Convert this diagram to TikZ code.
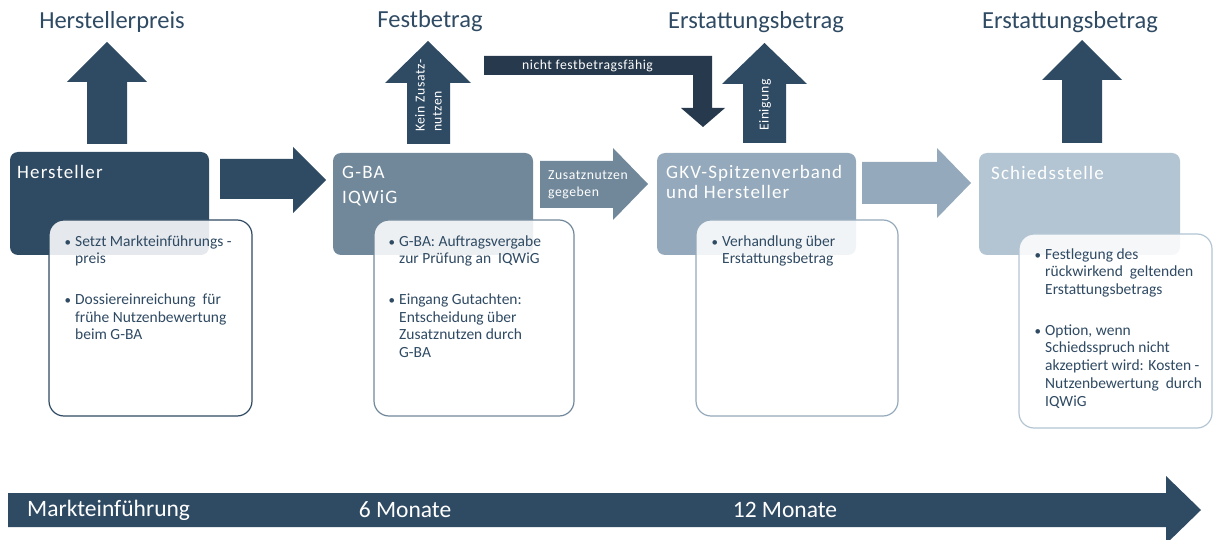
\documentclass[tikz,border=0pt]{standalone}
\usepackage{fontspec}
\setmainfont{Carlito}
\usepackage{tikz}
\definecolor{fonce}{HTML}{2F4A63}
\definecolor{noir}{HTML}{27394C}
\definecolor{moyen}{HTML}{71889B}
\definecolor{clair}{HTML}{94A9BB}
\definecolor{pale}{HTML}{B3C5D3}
\newcommand{\titre}{\fontsize{24.5}{28}\selectfont}
\newcommand{\entete}{\fontsize{19}{20}\selectfont\addfontfeatures{LetterSpace=6}}
\newcommand{\petit}{\fontsize{13.7}{17}\selectfont\addfontfeatures{LetterSpace=4}}
\newcommand{\liste}{\fontsize{15.5}{17.7}\selectfont}
\newcommand{\puce}{\llap{{\fontsize{13}{13}\selectfont\textbullet}\hspace{4pt}}}
\tikzset{
  boite/.style={rounded corners=8pt, inner sep=0pt},
  detail/.style={rounded corners=15pt, fill=white, fill opacity=0.88, line width=1.2pt, inner sep=0pt},
  puces/.style={anchor=north west, align=left, inner sep=0pt, text=fonce, font=\liste},
  blanc/.style={text=white, inner sep=0pt},
}

\begin{document}
\begin{tikzpicture}[x=1pt, y=-1pt]
    \useasboundingbox (0,0) rectangle (1213,540);

    % titres
    \node[text=fonce, font=\titre] (prix) at (112,22) {Herstellerpreis};
    \node[text=fonce, font=\titre] (fest) at (430,21) {Festbetrag};
    \node[text=fonce, font=\titre] (erst1) at (756,22) {Erstattungsbetrag};
    \node[text=fonce, font=\titre] (erst2) at (1070,22) {Erstattungsbetrag};

    % fleches vers le haut
    \fill[fonce] (87,144) -- (87,82) -- (67,82) -- (107,42) -- (147,82) -- (127,82) -- (127,144) -- cycle;
    \fill[fonce] (407,144) -- (407,83) -- (385,83) -- (428,41) -- (471,83) -- (450,83) -- (450,144) -- cycle;
    \fill[fonce] (743,143) -- (743,84) -- (722,84) -- (764.5,43) -- (807,84) -- (786,84) -- (786,143) -- cycle;
    \fill[fonce] (1062,143) -- (1062,80) -- (1042,80) -- (1082,40) -- (1122,80) -- (1102,80) -- (1102,143) -- cycle;
    \fill[noir] (484,56) -- (712,56) -- (712,108) -- (725,108) -- (703,127) -- (681,108) -- (693,108) -- (693,75) -- (484,75) -- cycle;

    \node[blanc, rotate=90, anchor=west, align=left, font=\petit] (kein) at (428.5,132) {Kein Zusatz-\\nutzen};
    \node[blanc, rotate=90, anchor=west, font=\petit] (einig) at (765,131) {Einigung};
    \node[blanc, font=\petit] (nicht) at (587.5,66) {nicht festbetragsfähig};

    % fleches horizontales
    \fill[fonce] (220,159) -- (293,159) -- (293,147) -- (326,180) -- (293,213) -- (293,199) -- (220,199) -- cycle;
    \fill[moyen] (540,161) -- (613,161) -- (613,148) -- (648,184) -- (613,220) -- (613,208) -- (540,208) -- cycle;
    \fill[clair] (862,162) -- (937,162) -- (937,148) -- (971,183) -- (937,218) -- (937,204) -- (862,204) -- cycle;
    \node[blanc, anchor=west, align=left, font=\petit] (zus) at (548,184.5) {Zusatznutzen\\gegeben};

    % cases
    \node[boite, fill=fonce, minimum width=199pt, minimum height=103pt] (hst) at (109.5,203.5) {};
    \node[boite, fill=moyen, minimum width=200pt, minimum height=102pt] (gba) at (433,204) {};
    \node[boite, fill=clair, minimum width=199pt, minimum height=102pt] (gkv) at (756.5,204) {};
    \node[boite, fill=pale, minimum width=201pt, minimum height=102pt] (sch) at (1079.5,204) {};

    \node[blanc, anchor=west, font=\entete] (hsttxt) at (17,172) {Hersteller};
    \node[blanc, anchor=west, font=\entete] (gbatxt) at (342,172) {G-BA};
    \node[blanc, anchor=west, font=\entete] (iqwtxt) at (342,198) {IQWiG};
    \node[blanc, anchor=west, align=left, font=\entete] (gkvtxt) at (666,182) {GKV-Spitzenverband\\und Hersteller};
    \node[blanc, anchor=west, font=\entete] (schtxt) at (991,173) {Schiedsstelle};

    % details
    \node[detail, draw=fonce, minimum width=203pt, minimum height=196pt] (hstd) at (150.5,318) {};
    \node[detail, draw=moyen, minimum width=200pt, minimum height=196pt] (gbad) at (474,318) {};
    \node[detail, draw=clair, minimum width=202pt, minimum height=196pt] (gkvd) at (797,318) {};
    \node[detail, draw=pale, minimum width=193pt, minimum height=194pt] (schd) at (1115.5,331) {};

    \node[puces] (hstl) at (75,233.6) {\strut\puce Setzt Markteinführungs -\\preis\\[23pt]\puce Dossiereinreichung\ \ für\\frühe Nutzenbewertung\\beim G-BA};
    \node[puces] (gbal) at (399,233.6) {\strut\puce G-BA: Auftragsvergabe\\zur Prüfung an\ \ IQWiG\\[23pt]\puce Eingang Gutachten:\\Entscheidung über\\Zusatznutzen durch\\G-BA};
    \node[puces] (gkvl) at (722,233.6) {\strut\puce Verhandlung über\\Erstattungsbetrag};
    \node[puces] (schl) at (1045,246.6) {\strut\puce Festlegung des\\rückwirkend\ \ geltenden\\Erstattungsbetrags\\[23pt]\puce Option, wenn\\Schiedsspruch nicht\\akzeptiert wird: Kosten -\\Nutzenbewertung\ \ durch\\IQWiG};

    % axe du temps
    \fill[fonce] (8,493) -- (1166,493) -- (1166,476) -- (1201,510) -- (1166,544) -- (1166,527) -- (8,527) -- cycle;
    \node[blanc, anchor=west, font=\fontsize{23.5}{28}\selectfont] (markt) at (27,510) {Markteinführung};
    \node[blanc, font=\fontsize{23.5}{28}\selectfont] (sechs) at (405,510) {6 Monate};
    \node[blanc, font=\fontsize{23.5}{28}\selectfont] (zwoelf) at (785,510) {12 Monate};

  \end{tikzpicture}
\end{document}
